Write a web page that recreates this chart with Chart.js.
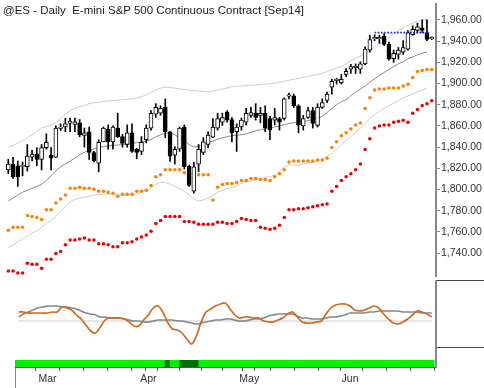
<!DOCTYPE html>
<html>
<head>
<meta charset="utf-8">
<script src="https://cdn.jsdelivr.net/npm/chart.js@4.4.1/dist/chart.umd.min.js"></script>
<style>
  html, body { margin: 0; padding: 0; background: #fff; }
  #wrap { position: relative; width: 484px; height: 388px; overflow: hidden; }
  .pane { position: absolute; left: 0; width: 484px; }
  #title { position: absolute; left: 3px; top: 3px; font: 11.5px "Liberation Sans", Arial, sans-serif; line-height: 14px; color: #222; white-space: pre; }
  #leftEdge { position: absolute; left: 15px; top: 368px; height: 20px; border-left: 1px solid #888; }
</style>
</head>
<body>
<div id="wrap">
  <div class="pane" style="top:0;height:280px"><canvas id="priceChart"></canvas></div>
  <div class="pane" style="top:280px;height:80px"><canvas id="oscChart"></canvas></div>
  <div class="pane" style="top:360px;height:28px"><canvas id="trendChart"></canvas></div>
  <div id="title">@ES - Daily  E-mini S&amp;P 500 Continuous Contract [Sep14]</div>
  <div id="leftEdge"></div>
</div>
<script>
// daily bars, 18 Feb .. 25 Jun 2014 (index = trading day)
const opens = [1818.5, 1824, 1822.5, 1821.75, 1821.5, 1830.5, 1833.5, 1828.5, 1839.5, 1832.5,
  1830.5, 1857.75, 1859, 1862.5, 1861.5, 1863, 1851, 1854.5, 1835, 1825,
  1845, 1857, 1845, 1858, 1850, 1842.5, 1853.5, 1838, 1836, 1847,
  1858, 1871, 1872, 1877.5, 1854.5, 1832.5, 1838, 1859, 1822, 1798.5,
  1824, 1835, 1842.5, 1849.5, 1858, 1863.5, 1873, 1866, 1854.5, 1859,
  1863.5, 1870, 1872, 1870, 1872, 1867, 1865.5, 1867, 1867, 1888,
  1888.5, 1879, 1860, 1868, 1874.5, 1860.5, 1877.5, 1884, 1896.5, 1902.75,
  1900.5, 1908.5, 1913.5, 1915, 1913.5, 1918.5, 1931.5, 1942.25, 1942.25, 1944.5,
  1937, 1923.5, 1927.5, 1929.5, 1932.5, 1946, 1950, 1952.5, 1948, 1942.25];
const highs = [1828.75, 1830.5, 1827, 1826, 1842.5, 1837, 1839.5, 1842.5, 1852.5, 1839.5,
  1860, 1862, 1867.25, 1867.5, 1867.5, 1866, 1858, 1859, 1836, 1847,
  1859, 1861, 1860, 1872, 1852, 1861, 1862, 1839, 1850, 1861,
  1874.5, 1881, 1879, 1885.5, 1855, 1840.5, 1859, 1861, 1823, 1826,
  1842.5, 1849, 1854.5, 1867, 1872, 1872, 1874.5, 1868, 1862, 1867.5,
  1876.5, 1877.5, 1881, 1877.5, 1879, 1869, 1876.5, 1868, 1886.5, 1891,
  1890, 1880, 1870, 1877.5, 1877.5, 1881, 1885.5, 1892, 1904, 1905,
  1908.5, 1914, 1918, 1918.5, 1920.5, 1934.5, 1945.5, 1946, 1945.5, 1947,
  1939, 1931.5, 1934, 1940.5, 1950, 1954.5, 1957, 1960, 1960, 1944];
const lows = [1815, 1810.5, 1803, 1813, 1817.5, 1827, 1822.5, 1818.5, 1838, 1818.5,
  1830, 1855.5, 1854.5, 1854.5, 1854.5, 1849.75, 1840, 1828.5, 1826, 1816.75,
  1845, 1838, 1838, 1849, 1840, 1840, 1835, 1829, 1833, 1844,
  1856, 1868, 1870, 1849, 1826.5, 1824, 1836, 1819.5, 1803, 1796.5,
  1817, 1833, 1839.5, 1849, 1856, 1860.5, 1863.5, 1845, 1836, 1856,
  1861, 1868, 1865.5, 1863, 1854.5, 1847, 1861, 1856, 1865.5, 1885.5,
  1877.5, 1853.5, 1856, 1867, 1858, 1859, 1876.5, 1882, 1890, 1899.5,
  1899.5, 1906.5, 1909.5, 1909.5, 1909.5, 1917.5, 1929.5, 1940.5, 1938, 1936,
  1922, 1920, 1923, 1927.5, 1931.5, 1945.5, 1948, 1948, 1940.5, 1941.5];
const closes = [1824, 1812, 1812, 1823, 1831.5, 1833.5, 1828.5, 1839.5, 1844.5, 1829.5,
  1858, 1859, 1862, 1864.5, 1864, 1851.5, 1853.5, 1835, 1827, 1844.5,
  1858, 1845, 1859, 1850, 1843.5, 1853.5, 1836, 1835, 1844.5, 1858,
  1872, 1877.5, 1876.5, 1854.5, 1831.5, 1838, 1858, 1821.5, 1804, 1821.5,
  1838, 1845, 1851.5, 1859, 1867, 1868, 1865.5, 1853.5, 1859, 1865.5,
  1872, 1872.5, 1868, 1872, 1858, 1856, 1868, 1863.5, 1885.5, 1889.25,
  1879, 1861, 1867, 1874.5, 1862.5, 1877.5, 1882, 1890, 1902, 1904,
  1904, 1911.5, 1916, 1916.25, 1918.5, 1932.5, 1941.5, 1943.5, 1943.5, 1937,
  1923, 1928.5, 1931.5, 1934, 1948, 1951, 1953.5, 1950, 1941.5, 1943.5];

const upperBand = [1839.7, 1841.6, 1843.9, 1846.2, 1848.9, 1851.7, 1855.3, 1858.1, 1859.5, 1860.4,
  1862.7, 1867.3, 1871.0, 1874.6, 1876.5, 1878.3, 1879.2, 1881.0, 1882.0, 1882.4,
  1882.9, 1883.8, 1883.8, 1884.3, 1884.7, 1885.2, 1885.6, 1886.6, 1887.5, 1889.3,
  1891.6, 1893.9, 1895.7, 1896.7, 1896.2, 1895.7, 1894.8, 1894.4, 1893.9, 1893.4,
  1893.0, 1892.5, 1892.1, 1893.0, 1893.9, 1894.8, 1895.7, 1897.1, 1897.6, 1897.6,
  1898.0, 1898.5, 1898.5, 1899.0, 1899.4, 1899.9, 1900.3, 1901.2, 1902.2, 1903.1,
  1904.0, 1904.9, 1905.8, 1906.8, 1907.7, 1908.6, 1909.5, 1911.3, 1913.2, 1914.6,
  1916.0, 1918.7, 1921.4, 1923.7, 1926.0, 1928.8, 1931.5, 1934.3, 1937.0, 1938.9,
  1943.5, 1947.1, 1949.9, 1952.7, 1954.9, 1957.2, 1958.6, 1960.0, 1960.5, null];
const midLine = [1789.2, 1792.0, 1794.8, 1797.5, 1799.3, 1801.2, 1803.0, 1804.9, 1808.5, 1813.1,
  1817.7, 1821.4, 1824.1, 1826.9, 1829.6, 1832.8, 1835.1, 1837.0, 1838.4, 1839.7,
  1840.7, 1841.1, 1841.6, 1842.0, 1842.5, 1842.5, 1843.4, 1844.3, 1844.8, 1845.7,
  1847.1, 1849.8, 1851.7, 1853.0, 1853.5, 1851.7, 1848.9, 1846.2, 1842.5, 1840.2,
  1840.7, 1842.5, 1844.3, 1845.7, 1847.5, 1848.9, 1849.8, 1850.8, 1851.2, 1851.7,
  1852.6, 1854.0, 1855.3, 1856.3, 1857.2, 1858.1, 1859.0, 1859.9, 1861.3, 1862.2,
  1863.1, 1863.6, 1864.1, 1865.0, 1866.4, 1867.3, 1869.1, 1872.8, 1876.5, 1880.1,
  1882.9, 1884.7, 1888.4, 1892.1, 1894.8, 1897.6, 1901.2, 1904.5, 1907.7, 1910.4,
  1913.2, 1916.0, 1918.7, 1920.5, 1923.3, 1925.1, 1927.0, 1928.8, 1929.7, null];
const lowerBand = [1745.2, 1747.9, 1750.7, 1753.4, 1756.2, 1759.0, 1761.3, 1764.5, 1768.1, 1770.9,
  1774.6, 1779.1, 1783.7, 1788.3, 1790.6, 1792.0, 1792.9, 1793.8, 1794.8, 1795.2,
  1795.7, 1795.7, 1795.7, 1795.2, 1794.8, 1794.8, 1794.8, 1795.7, 1797.5, 1799.3,
  1801.6, 1804.9, 1807.1, 1806.7, 1804.9, 1803.0, 1801.2, 1798.4, 1794.8, 1791.1,
  1789.2, 1790.2, 1792.0, 1794.8, 1797.5, 1799.3, 1800.7, 1802.1, 1803.5, 1805.8,
  1807.1, 1808.1, 1809.0, 1810.4, 1811.3, 1812.2, 1813.6, 1816.8, 1821.4, 1823.7,
  1822.8, 1822.8, 1824.1, 1825.0, 1825.9, 1826.9, 1828.7, 1831.5, 1834.2, 1837.9,
  1842.5, 1846.2, 1849.8, 1854.0, 1857.6, 1862.7, 1866.8, 1871.0, 1873.7, 1876.5,
  1879.2, 1881.5, 1883.8, 1886.6, 1888.4, 1890.2, 1892.1, 1893.9, 1895.7, null];

const orangeStops = [1761.7, 1764.5, 1764.5, 1764.5, 1775.5, 1774.6, 1773.6, 1771.8, 1781.0, 1781.0,
  1787.4, 1791.1, 1794.8, 1801.2, 1801.2, 1802.1, 1801.2, 1801.2, 1800.3, 1798.4,
  1798.4, 1797.5, 1796.6, 1793.8, 1795.7, 1795.7, 1795.7, 1798.4, 1798.4, 1799.3,
  1803.9, 1812.2, 1814.0, 1818.6, 1818.6, 1818.6, 1818.6, 1815.9, 1815.9, 1815.9,
  1814.0, 1814.0, 1814.0, 1790.2, 1802.1, 1804.9, 1805.8, 1805.8, 1806.7, 1808.5,
  1808.5, 1810.4, 1810.4, 1809.4, 1809.4, 1808.5, 1812.2, 1814.9, 1818.6, 1825.9,
  1826.9, 1826.9, 1826.9, 1826.9, 1826.9, 1827.8, 1827.8, 1829.6, 1839.7, 1845.2,
  1850.8, 1853.5, 1857.2, 1860.9, 1862.7, 1876.5, 1886.6, 1893.9, 1894.8, 1894.8,
  1895.7, 1895.7, 1895.7, 1897.6, 1899.4, 1905.8, 1911.3, 1912.3, 1913.2, 1913.2];
const redStops = [1723.1, 1723.1, 1721.3, 1721.3, 1730.5, 1729.6, 1729.6, 1725.9, 1734.2, 1734.2,
  1739.7, 1741.5, 1747.9, 1752.5, 1752.5, 1753.4, 1754.4, 1752.5, 1752.5, 1748.9,
  1748.9, 1747.9, 1746.1, 1746.1, 1749.8, 1749.8, 1750.7, 1753.4, 1755.3, 1757.1,
  1760.8, 1768.1, 1770.9, 1774.6, 1774.6, 1774.6, 1774.6, 1770.0, 1770.0, 1769.1,
  1767.2, 1767.2, 1767.2, 1767.2, 1769.1, 1769.1, 1768.1, 1768.1, 1770.0, 1772.7,
  1771.8, 1770.9, 1770.9, 1764.5, 1763.5, 1762.6, 1763.5, 1766.3, 1773.6, 1781.0,
  1781.0, 1781.9, 1781.9, 1782.8, 1783.7, 1784.7, 1785.6, 1786.5, 1798.4, 1803.0,
  1808.5, 1812.2, 1814.9, 1818.6, 1824.1, 1837.9, 1848.0, 1858.1, 1859.9, 1860.9,
  1860.9, 1863.6, 1864.5, 1865.4, 1863.6, 1871.9, 1875.5, 1879.2, 1881.0, 1883.8];

// level drawn as the blue dotted line, and the bars it spans
const resistanceLevel = 1948;
const resistanceBars = [77, 88];

// lower pane oscillator
const oscFast = [null, null, null, 4.5, 4.5, 4, 4, 4, 4, 4,
  4.5, 4.5, 7, 6.5, 5.5, 3, 1, -2, -5, -6,
  -3, 0.5, 1.5, 1.5, 1.5, 1, -0.5, -2.5, -2.5, 0.5,
  3, 6.5, 7.5, 4.5, -0.5, -4, -4.5, -6, -9, -11.5,
  -7.5, -0.5, 4.5, 6, 7.5, 8.5, 9, 6, 3, 1.5,
  2, 2, 1.5, 1.5, 0, -0.5, -0.5, 0.5, 1.5, 3.5,
  4.5, 2, -0.5, -1, -1, -0.5, 0, 3.5, 6.5, 8,
  8.5, 8.5, 7.5, 5.5, 5, 5.5, 6.5, 7.5, 6.5, 3.5,
  1, -1, -1.5, -0.5, 1, 3, 5, 4.5, 3.5, 2];
const oscSlow = [null, null, null, 2, 3.5, 4.5, 5.5, 6.5, 7, 7.5,
  7.5, 7.5, 7, 7, 6.5, 6, 5, 4, 3.5, 3,
  2, 2, 1.5, 1.5, 1.5, 1, 0.5, 0, 0, -0.5,
  -0.5, 0, 0.5, 0.5, 0.5, 0.5, 0, 0, -0.5, -1,
  -1.5, -1, -0.5, 0, 0.5, 0.5, 1, 1, 0.5, 0,
  0, 0.5, 1, 1, 1.5, 2.5, 3, 3.5, 3.5, 3.5,
  3.5, 2.5, 1.5, 1.5, 1, 1, 1, 1.5, 2, 2,
  2.5, 3, 4, 4, 4, 4, 4.5, 4.5, 5, 5,
  5, 5, 5, 4.5, 4.5, 4.5, 4.5, 4, 4, 4];
const oscFirstBar = 3;

// trend strip: bars shown dark green
const weakBars = [34, 37, 38, 39, 40];
const trendFirstBar = 2;

const priceTicks = [1740, 1760, 1780, 1800, 1820, 1840, 1860, 1880, 1900, 1920, 1940, 1960];
const oscTicks = [20.5, -13];
const weekTicks = [4, 9, 14, 19, 24, 29, 34, 39, 43, 48, 53, 58, 63, 68, 72, 77, 82, 87];
const monthTicks = [9, 30, 51, 72];
const monthNames = ['Mar', 'Apr', 'May', 'Jun'];

// ---- layout ----
const FONT = '"Liberation Sans", Arial, sans-serif';
const AXIS_W = 48;
const PLOT_W = 484 - AXIS_W;
const X_MIN = -0.9, X_MAX = 89.9;
const STRIP_LEFT = 15;

const pts = arr => arr.map((v, i) => ({ x: i, y: v }));

function rightAxis(scale) {
    scale.width = AXIS_W;
    scale.paddingTop = 0;
    scale.paddingBottom = 0;
}

const common = {
    responsive: true,
    maintainAspectRatio: false,
    animation: false,
    events: [],
    layout: { padding: 0 },
    plugins: { legend: { display: false }, tooltip: { enabled: false } }
};

// --- price pane ---
new Chart(document.getElementById('priceChart'), {
    type: 'bar',
    data: {
        datasets: [
            {
                type: 'line',
                data: resistanceBars.map(b => ({ x: b, y: resistanceLevel })),
                borderColor: '#2020ff', borderWidth: 1.6, borderDash: [1.6, 1.6],
                pointRadius: 0, order: 0
            },
            {
                data: opens.map((o, i) => ({ x: i, y: [o, closes[i]] })),
                backgroundColor: ctx => closes[ctx.dataIndex] >= opens[ctx.dataIndex] ? '#ffffff' : '#000000',
                borderColor: '#000', borderWidth: 1, borderSkipped: false,
                barThickness: 4, grouped: false, order: 1
            },
            {
                data: lows.map((l, i) => ({ x: i, y: [l, highs[i]] })),
                backgroundColor: '#000', barThickness: 1, grouped: false, order: 2
            },
            {
                type: 'line', data: pts(orangeStops), showLine: false,
                pointRadius: 1.75, pointBackgroundColor: '#ff8000', pointBorderWidth: 0, order: 3
            },
            {
                type: 'line', data: pts(redStops), showLine: false,
                pointRadius: 1.75, pointBackgroundColor: '#f00000', pointBorderWidth: 0, order: 3
            },
            { type: 'line', data: pts(midLine), borderColor: '#8c8c8c', borderWidth: 1, pointRadius: 0, order: 4 },
            { type: 'line', data: pts(upperBand), borderColor: '#cccccc', borderWidth: 1, pointRadius: 0, order: 4 },
            { type: 'line', data: pts(lowerBand), borderColor: '#cccccc', borderWidth: 1, pointRadius: 0, order: 4 }
        ]
    },
    options: Object.assign({}, common, {
        scales: {
            x: { type: 'linear', display: false, offset: false, min: X_MIN, max: X_MAX },
            y: {
                position: 'right', min: 1718.5, max: 1975,
                afterBuildTicks: s => { s.ticks = priceTicks.map(v => ({ value: v })); },
                afterFit: rightAxis,
                grid: { drawOnChartArea: false, tickLength: 4, color: '#888' },
                border: { color: '#888', width: 2 },
                ticks: {
                    padding: 1, color: '#333',
                    font: { family: FONT, size: 10.5 },
                    callback: v => v.toLocaleString('en-US', { minimumFractionDigits: 2, maximumFractionDigits: 2 })
                }
            }
        }
    })
});

// --- oscillator pane ---
new Chart(document.getElementById('oscChart'), {
    type: 'line',
    data: {
        datasets: [
            { data: pts(oscFast), borderColor: '#d2691e', borderWidth: 1.7, tension: 0.35, order: 0 },
            { data: pts(oscSlow), borderColor: '#888888', borderWidth: 1.6, tension: 0.35, order: 1 },
            { data: [{ x: oscFirstBar, y: 0 }, { x: opens.length - 1, y: 0 }], borderColor: '#cccccc', borderWidth: 1, order: 2 }
        ]
    },
    options: Object.assign({}, common, {
        elements: { point: { radius: 0 } },
        scales: {
            x: { type: 'linear', display: false, min: X_MIN, max: X_MAX },
            y: {
                position: 'right', min: -19.5, max: 20.5,
                afterBuildTicks: s => { s.ticks = oscTicks.map(v => ({ value: v })); },
                afterFit: rightAxis,
                grid: { drawOnChartArea: false, tickLength: AXIS_W, color: '#444' },
                border: { color: '#888', width: 2 },
                ticks: { display: false }
            }
        }
    })
});

// --- trend strip + date axis ---
const trendData = [];
for (let i = trendFirstBar; i < opens.length; i++) trendData.push({ x: i, y: [0, 1] });
const allTicks = Array.from(new Set(weekTicks.concat(monthTicks))).sort((a, b) => a - b);

new Chart(document.getElementById('trendChart'), {
    type: 'bar',
    data: {
        datasets: [{
            data: trendData,
            backgroundColor: ctx => weakBars.includes(trendFirstBar + ctx.dataIndex) ? '#006f00' : '#00f000',
            barPercentage: 1, categoryPercentage: 1, borderWidth: 0
        }]
    },
    options: Object.assign({}, common, {
        layout: { padding: { left: STRIP_LEFT } },
        scales: {
            x: {
                type: 'linear', offset: false,
                min: X_MIN + STRIP_LEFT * (X_MAX - X_MIN) / PLOT_W, max: X_MAX,
                afterBuildTicks: s => { s.ticks = allTicks.map(v => ({ value: v })); },
                afterFit: s => { s.height = 21; s.paddingLeft = 0; s.paddingRight = 0; },
                grid: { drawOnChartArea: false, tickLength: 4, color: '#555' },
                border: { color: '#555', width: 1 },
                ticks: {
                    autoSkip: false, maxRotation: 0, padding: 2, color: '#333',
                    font: { family: FONT, size: 10.5 },
                    callback: v => { const k = monthTicks.indexOf(v); return k >= 0 ? monthNames[k] : ''; }
                }
            },
            y: {
                position: 'right', min: 0, max: 1,
                afterFit: rightAxis,
                grid: { display: false },
                border: { color: '#888', width: 2 },
                ticks: { display: false }
            }
        }
    })
});
</script>
</body>
</html>
